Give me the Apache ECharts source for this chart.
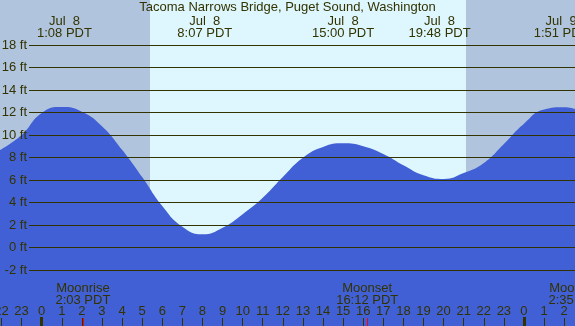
<!DOCTYPE html>
<html>
<head>
<meta charset="utf-8">
<script src="https://cdn.jsdelivr.net/npm/echarts@6/dist/echarts.min.js"></script>
<style>
  html, body { margin: 0; padding: 0; background: #fff; }
  #tide { width: 575px; height: 326px; }
</style>
</head>
<body>
<div id="tide"></div>
<script>
// hours counted from Jul 8 0:00 PDT
var tideHours = [-2.075, -1, 0, 1, 2, 3, 4, 5, 6, 7, 8, 9, 10, 11, 12, 13, 14, 15, 16, 17, 18, 19, 20, 21, 22, 23, 24, 25, 26, 26.54];
var tideFeet  = [8.66, 10.0, 11.95, 12.48, 12.07, 10.78, 8.68, 6.25, 3.67, 1.83, 1.16, 1.75, 2.95, 4.4, 6.25, 7.97, 8.93, 9.25, 9.0, 8.3, 7.3, 6.4, 6.07, 6.6, 7.5, 9.2, 11.0, 12.25, 12.45, 12.3];

var extremeHours = [1.133, 8.117, 15.0, 19.8, 25.85];
var extremeDates = ['Jul  8', 'Jul  8', 'Jul  8', 'Jul  8', 'Jul  9'];
var extremeTimes = ['1:08 PDT', '8:07 PDT', '15:00 PDT', '19:48 PDT', '1:51 PDT'];

var moonHours = [2.05, 16.2, 26.583];
var moonNames = ['Moonrise', 'Moonset', 'Moonrise'];
var moonTimes = ['2:03 PDT', '16:12 PDT', '2:35 PDT'];

var hourTicks = [-2, -1, 0, 1, 2, 3, 4, 5, 6, 7, 8, 9, 10, 11, 12, 13, 14, 15, 16, 17, 18, 19, 20, 21, 22, 23, 24, 25, 26];
var midnightTicks = [0, 24];
var sunrise = 5.39, sunset = 21.115;

var xMin = -2.075, xMax = 26.54;
var chartW = 575, wideW = 640;   // the moon axis runs past the right edge so the last label can be cut
var wideMax = xMin + (xMax - xMin) * wideW / chartW;
var ink = '#333300';
var font = 'Liberation Sans';

var tideData = tideHours.map(function (h, i) { return [h, tideFeet[i]]; });

var myChart = echarts.init(document.getElementById('tide'));
var option = {
    animation: false,
    title: { text: 'Tacoma Narrows Bridge, Puget Sound, Washington', left: 'center', top: 1, padding: 0, z: 20,
             textStyle: { fontFamily: font, fontSize: 13, fontWeight: 'normal', color: ink } },
    grid: [
        { left: 0, right: 0, top: 0, bottom: 0, outerBoundsMode: 'none', containLabel: false },
        { left: 29, right: 0, top: 45, bottom: 56, outerBoundsMode: 'none', containLabel: false },
        { left: 0, width: wideW, top: 0, bottom: 0, outerBoundsMode: 'none', containLabel: false }
    ],
    xAxis: [
        {   // hour ticks
            gridIndex: 0, type: 'value', min: xMin, max: xMax, position: 'bottom', z: 10,
            axisLine: { show: false, onZero: false }, splitLine: { show: false },
            axisTick: { show: true, inside: true, length: 8, customValues: hourTicks, lineStyle: { color: ink, width: 1 } },
            axisLabel: { show: true, inside: true, margin: 8, customValues: hourTicks, hideOverlap: false,
                         showMinLabel: true, showMaxLabel: true, color: ink, fontFamily: font, fontSize: 13,
                         formatter: function (v) { return String(((Math.round(v) % 24) + 24) % 24); } }
        },
        {   // midnight ticks
            gridIndex: 0, type: 'value', min: xMin, max: xMax, position: 'bottom', z: 10,
            axisLine: { show: false, onZero: false }, splitLine: { show: false }, axisLabel: { show: false },
            axisTick: { show: true, inside: true, length: 9, customValues: midnightTicks, lineStyle: { color: ink, width: 3 } }
        },
        {   // moon rise/set
            gridIndex: 2, type: 'value', min: xMin, max: wideMax, position: 'bottom', z: 10,
            axisLine: { show: false, onZero: false }, splitLine: { show: false },
            axisTick: { show: true, inside: true, length: 8, customValues: moonHours, lineStyle: { color: '#ff0000', width: 1 } },
            axisLabel: { show: true, inside: true, margin: 20, customValues: moonHours, hideOverlap: false,
                         showMinLabel: true, showMaxLabel: true, color: ink, fontFamily: font, fontSize: 13, lineHeight: 12,
                         formatter: function (v) {
                             var i = moonHours.indexOf(v);
                             return moonNames[i] + '\n' + moonTimes[i];
                         } }
        },
        {   // high / low labels
            gridIndex: 0, type: 'value', min: xMin, max: xMax, position: 'top', z: 10,
            axisLine: { show: false, onZero: false }, splitLine: { show: false }, axisTick: { show: false },
            axisLabel: { show: true, inside: true, margin: 15, customValues: extremeHours, hideOverlap: false,
                         showMinLabel: true, showMaxLabel: true, color: ink, fontFamily: font, fontSize: 13, lineHeight: 12,
                         formatter: function (v) {
                             var i = extremeHours.indexOf(v);
                             return extremeDates[i] + '\n' + extremeTimes[i];
                         } }
        },
        { gridIndex: 1, type: 'value', min: xMin, max: xMax, show: false }
    ],
    yAxis: [
        { gridIndex: 0, type: 'value', min: -7, max: 22, show: false },
        {   gridIndex: 1, type: 'value', min: -2, max: 18, interval: 2, z: 10,
            axisLine: { show: false }, axisTick: { show: false },
            splitLine: { show: true, lineStyle: { color: ink, width: 1 } },
            axisLabel: { margin: 2, color: ink, fontFamily: font, fontSize: 13, formatter: '{value} ft' }
        },
        { gridIndex: 2, type: 'value', min: -7, max: 22, show: false }
    ],
    series: [
        {   name: 'daylight', type: 'line', xAxisIndex: 0, yAxisIndex: 0, data: [], z: 1, silent: true,
            markArea: { silent: true, data: [
                [ { xAxis: xMin, itemStyle: { color: '#b0c4de' } }, { xAxis: sunrise } ],
                [ { xAxis: sunrise, itemStyle: { color: '#def7fe' } }, { xAxis: sunset } ],
                [ { xAxis: sunset, itemStyle: { color: '#b0c4de' } }, { xAxis: xMax } ]
            ] }
        },
        {   name: 'tide', type: 'line', xAxisIndex: 0, yAxisIndex: 0, data: tideData, z: 2,
            smooth: 0.5, showSymbol: false, silent: true,
            lineStyle: { width: 0, color: '#4160d5' },
            areaStyle: { color: '#4160d5', opacity: 1, origin: 'start' }
        }
    ]
};
myChart.setOption(option);
</script>
</body>
</html>
